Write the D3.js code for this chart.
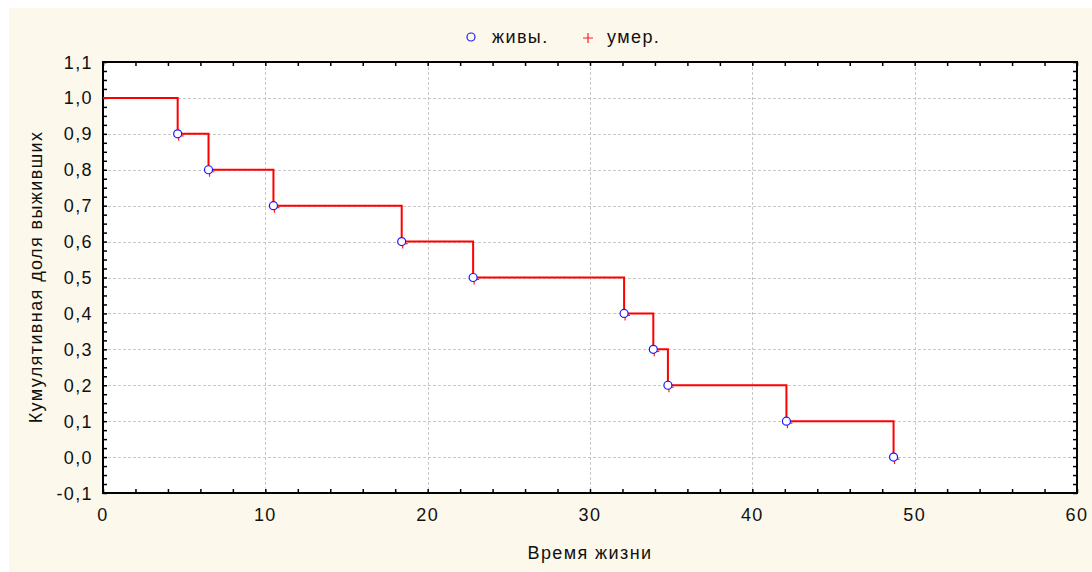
<!DOCTYPE html>
<html lang="ru">
<head>
<meta charset="UTF-8">
<title>Кумулятивная доля выживших</title>
<style>
    body { margin: 0; background: #fff; }
    svg { display: block; font-family: "Liberation Sans", Arial, sans-serif; }
    svg text { letter-spacing: 1.4px; }
</style>
</head>
<body>
<svg width="1092" height="572"></svg>
<script src="https://cdn.jsdelivr.net/npm/d3@7"></script>
<script>
// event times (Время жизни) and survival after each event
const times = [4.6, 6.5, 10.5, 18.4, 22.8, 32.1, 33.9, 34.8, 42.1, 48.7];
const survival = [0.9, 0.8, 0.7, 0.6, 0.5, 0.4, 0.3, 0.2, 0.1, 0.0];
const startValue = 1.0;
const xTicks = [0, 10, 20, 30, 40, 50, 60];
const yTicks = [-0.1, 0, 0.1, 0.2, 0.3, 0.4, 0.5, 0.6, 0.7, 0.8, 0.9, 1.0, 1.1];
const legendLabels = ["живы.", "умер."];

const W = 1092, H = 572;
const plot = { left: 103, right: 1077, top: 62, bottom: 493 };
const fs = 18;

const svg = d3.select("svg");

// cream background
svg.append("rect")
    .attr("x", 9).attr("y", 8)
    .attr("width", W - 9).attr("height", H - 8)
    .attr("fill", "#fdf8ec");

svg.append("rect")
    .attr("x", plot.left).attr("y", plot.top)
    .attr("width", plot.right - plot.left).attr("height", plot.bottom - plot.top)
    .attr("fill", "#fff");

const x = d3.scaleLinear().domain([0, 60]).range([plot.left, plot.right]);
const y = d3.scaleLinear().domain([-0.1, 1.1]).range([plot.bottom, plot.top]);

const fmt = v => d3.format(".1f")(v).replace(".", ",").replace("−", "-");

// grid
const grid = svg.append("g")
    .attr("stroke", "#c8c8c8")
    .attr("stroke-width", 1)
    .attr("stroke-dasharray", "3,2");
grid.selectAll(".gx").data(xTicks.slice(1, -1)).join("line")
    .attr("x1", d => Math.round(x(d)) + 0.5).attr("x2", d => Math.round(x(d)) + 0.5)
    .attr("y1", plot.top).attr("y2", plot.bottom);
grid.selectAll(".gy").data(yTicks.slice(1, -1)).join("line")
    .attr("y1", d => Math.round(y(d)) + 0.5).attr("y2", d => Math.round(y(d)) + 0.5)
    .attr("x1", plot.left).attr("x2", plot.right);

// axes with inward ticks
const xMinor = d3.range(0, 61, 2);
const yMinor = d3.range(-0.1, 1.1001, 0.025);

const bottomAxis = svg.append("g").attr("transform", `translate(0,${plot.bottom})`)
    .call(d3.axisBottom(x).tickValues(xMinor).tickSize(-4).tickFormat(""));
const topAxis = svg.append("g").attr("transform", `translate(0,${plot.top})`)
    .call(d3.axisTop(x).tickValues(xMinor).tickSize(-4).tickFormat(""));
const leftAxis = svg.append("g").attr("transform", `translate(${plot.left},0)`)
    .call(d3.axisLeft(y).tickValues(yMinor).tickSize(-4).tickFormat(""));
const rightAxis = svg.append("g").attr("transform", `translate(${plot.right},0)`)
    .call(d3.axisRight(y).tickValues(yMinor).tickSize(-4).tickFormat(""));
[bottomAxis, topAxis, leftAxis, rightAxis].forEach(g => {
    g.select(".domain").remove();
    g.selectAll("line").attr("stroke", "#000").attr("stroke-width", 1.5);
});

// major tick labels
svg.append("g").selectAll("text").data(xTicks).join("text")
    .attr("x", d => x(d)).attr("y", plot.bottom + 28)
    .attr("text-anchor", "middle")
    .attr("font-size", fs).attr("fill", "#111")
    .text(d => d);
svg.append("g").selectAll("text").data(yTicks).join("text")
    .attr("x", plot.left - 10).attr("y", d => y(d) + 6.5)
    .attr("text-anchor", "end")
    .attr("font-size", fs).attr("fill", "#111")
    .text(d => fmt(d));

// frame
svg.append("rect")
    .attr("x", plot.left).attr("y", plot.top)
    .attr("width", plot.right - plot.left).attr("height", plot.bottom - plot.top)
    .attr("fill", "none").attr("stroke", "#000").attr("stroke-width", 2);

// step line
const stepPts = [[0, startValue]];
times.forEach((t, i) => {
    stepPts.push([t, i === 0 ? startValue : survival[i - 1]]);
    stepPts.push([t, survival[i]]);
});
svg.append("path")
    .datum(stepPts)
    .attr("fill", "none")
    .attr("stroke", "#ff0000")
    .attr("stroke-width", 2)
    .attr("d", d3.line().x(d => x(d[0])).y(d => y(d[1])));

// red plus markers (умер.)
const pts = times.map((t, i) => ({ t, s: survival[i] }));
const plus = svg.append("g").attr("stroke", "#ff2020").attr("stroke-width", 1.2);
plus.selectAll("path").data(pts).join("path")
    .attr("d", d => {
        const cx = x(d.t) + 1, cy = y(d.s) + 2;
        return `M${cx - 5},${cy}H${cx + 5}M${cx},${cy - 5}V${cy + 5}`;
    });

// blue circle markers (живы.)
svg.append("g").selectAll("circle").data(pts).join("circle")
    .attr("cx", d => x(d.t)).attr("cy", d => y(d.s))
    .attr("r", 4)
    .attr("fill", "#fff")
    .attr("stroke", "#1a1aff")
    .attr("stroke-width", 1.2);

// legend
const legend = svg.append("g");
legend.append("circle").attr("cx", 471).attr("cy", 37).attr("r", 4)
    .attr("fill", "none").attr("stroke", "#1a1aff").attr("stroke-width", 1.2);
legend.append("text").attr("x", 492).attr("y", 43).attr("font-size", fs).attr("fill", "#111")
    .text(legendLabels[0]);
legend.append("path").attr("d", "M583,38H593M588,33V43")
    .attr("stroke", "#ff2020").attr("stroke-width", 1.2);
legend.append("text").attr("x", 607).attr("y", 43).attr("font-size", fs).attr("fill", "#111")
    .text(legendLabels[1]);

// axis titles
svg.append("text")
    .attr("x", (plot.left + plot.right) / 2).attr("y", 559)
    .attr("text-anchor", "middle").attr("font-size", fs).attr("fill", "#111")
    .text("Время жизни");
svg.append("text")
    .attr("transform", `translate(42,277) rotate(-90)`)
    .attr("text-anchor", "middle").attr("font-size", fs).attr("fill", "#111")
    .text("Кумулятивная доля выживших");
</script>
</body>
</html>
